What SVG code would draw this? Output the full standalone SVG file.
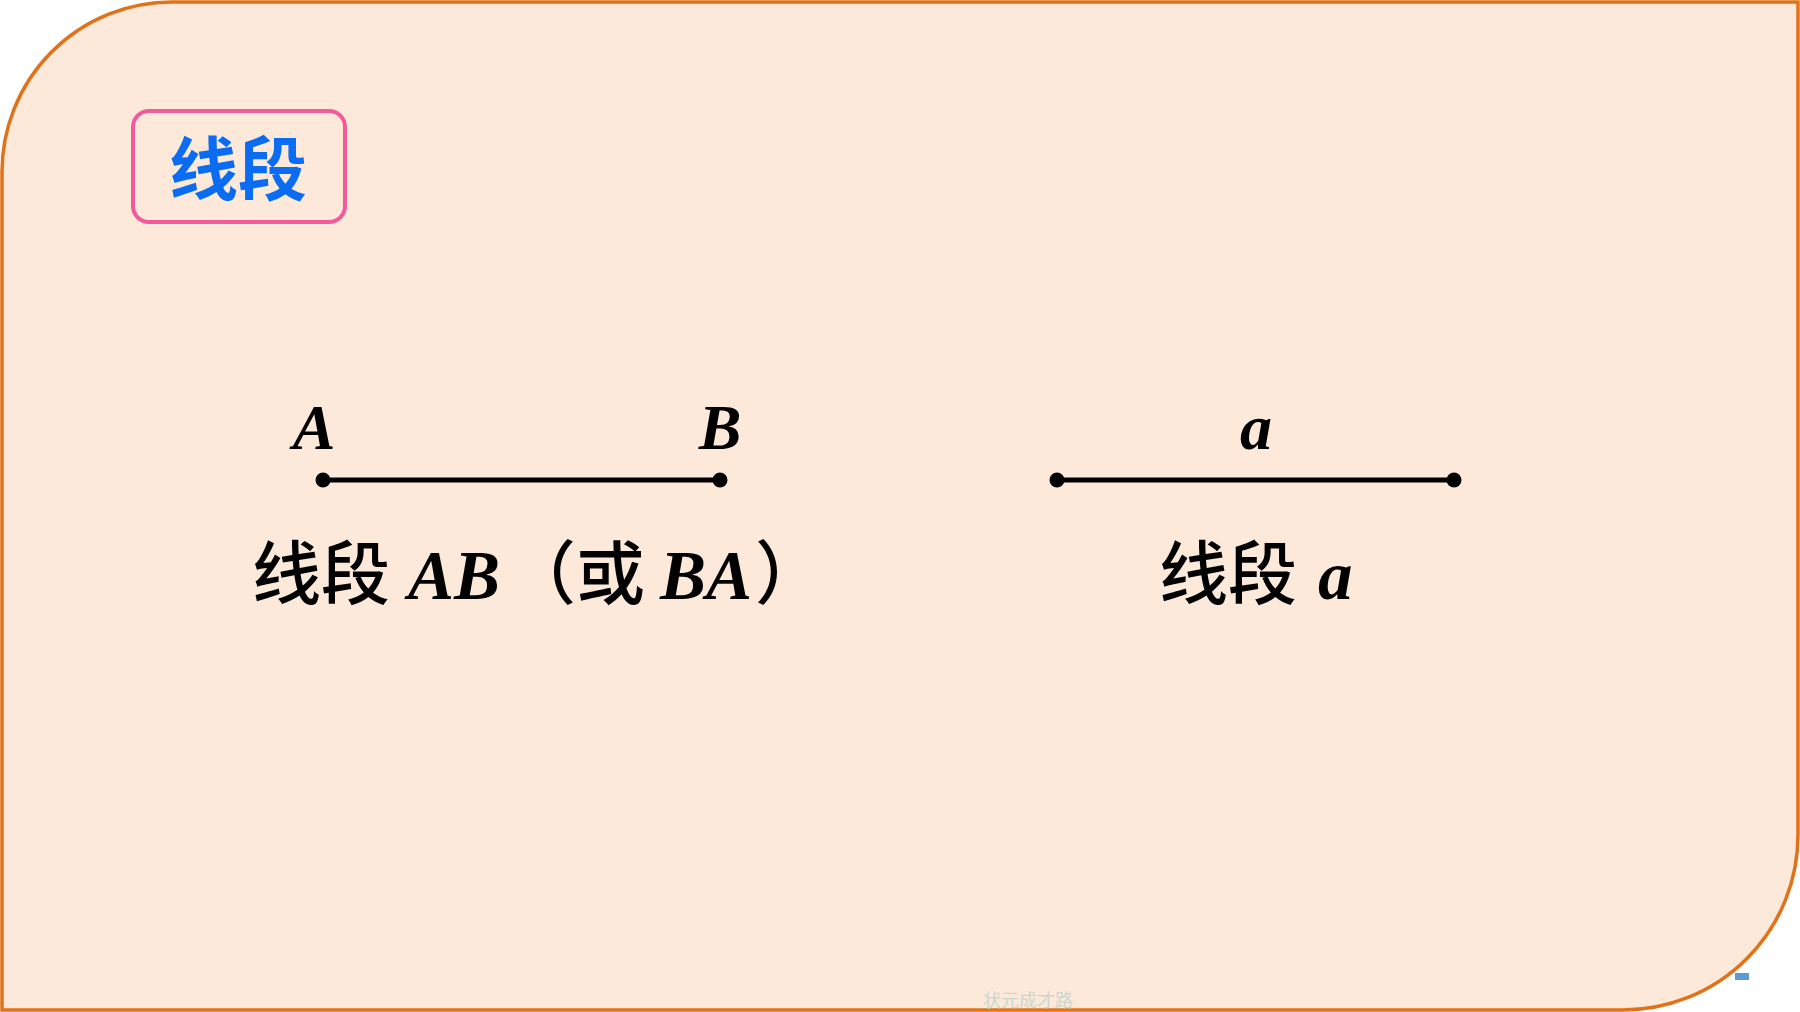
<svg xmlns="http://www.w3.org/2000/svg" width="1800" height="1012" viewBox="0 0 1800 1012">
  <defs>
    <style>
      .cjk { font-family: "Noto Sans CJK SC", "Noto Sans", sans-serif; font-weight: 500; }
      .lat { font-family: "Liberation Serif", "Times New Roman", serif; font-style: italic; font-weight: bold; }
      .seg { stroke: #000; stroke-width: 5; }
      .dot { fill: #000; }
      .cap { fill: #000; }
    </style>
  </defs>
  <rect x="0" y="0" width="1800" height="1012" fill="#ffffff"/>
  <rect x="1735" y="973" width="14" height="7" fill="#5B9BD5"/>
  <g id="background">
    <path d="M 172 2 H 1798 V 835 A 175 175 0 0 1 1623 1010 H 2 V 172 A 170 170 0 0 1 172 2 Z" fill="#FDE9DA" stroke="#E0731A" stroke-width="3.5"/>
  </g>
  <g id="title">
    <rect x="133" y="111" width="212" height="111" rx="16" ry="16" fill="none" stroke="#F25A9C" stroke-width="4"/>
    <text x="238" y="195" text-anchor="middle" font-family="Noto Sans CJK SC, sans-serif" font-size="69" font-weight="700" fill="#0A6CF2">线段</text>
  </g>
  <g id="connectors">
    <line class="seg" x1="323" y1="480" x2="720" y2="480"/>
    <line class="seg" x1="1057" y1="480" x2="1454" y2="480"/>
  </g>
  <g id="segment-AB">
    <circle class="dot" cx="323" cy="480" r="7.5"/>
    <circle class="dot" cx="720" cy="480" r="7.5"/>
    <text x="314" y="449" text-anchor="middle" class="lat" font-size="64" fill="#000">A</text>
    <text x="720" y="449" text-anchor="middle" class="lat" font-size="64" fill="#000">B</text>
    <text y="599" class="cap">
      <tspan x="252" class="cjk" font-size="69">线段</tspan><tspan x="408" class="lat" font-size="69">AB</tspan><tspan x="507" class="cjk" font-size="69">（或</tspan><tspan x="660" class="lat" font-size="69">BA</tspan><tspan x="755" class="cjk" font-size="69">）</tspan>
    </text>
  </g>
  <g id="segment-a">
    <circle class="dot" cx="1057" cy="480" r="7.5"/>
    <circle class="dot" cx="1454" cy="480" r="7.5"/>
    <text x="1256" y="449" text-anchor="middle" class="lat" font-size="64" fill="#000">a</text>
    <text y="599" class="cap">
      <tspan x="1159" class="cjk" font-size="69">线段</tspan><tspan x="1318" class="lat" font-size="69">a</tspan>
    </text>
  </g>
  <g id="watermark">
    <text x="1028" y="1007" text-anchor="middle" font-family="Noto Sans CJK SC, sans-serif" font-size="18" fill="#BFD3CB" opacity="0.8">状元成才路</text>
  </g>
</svg>
